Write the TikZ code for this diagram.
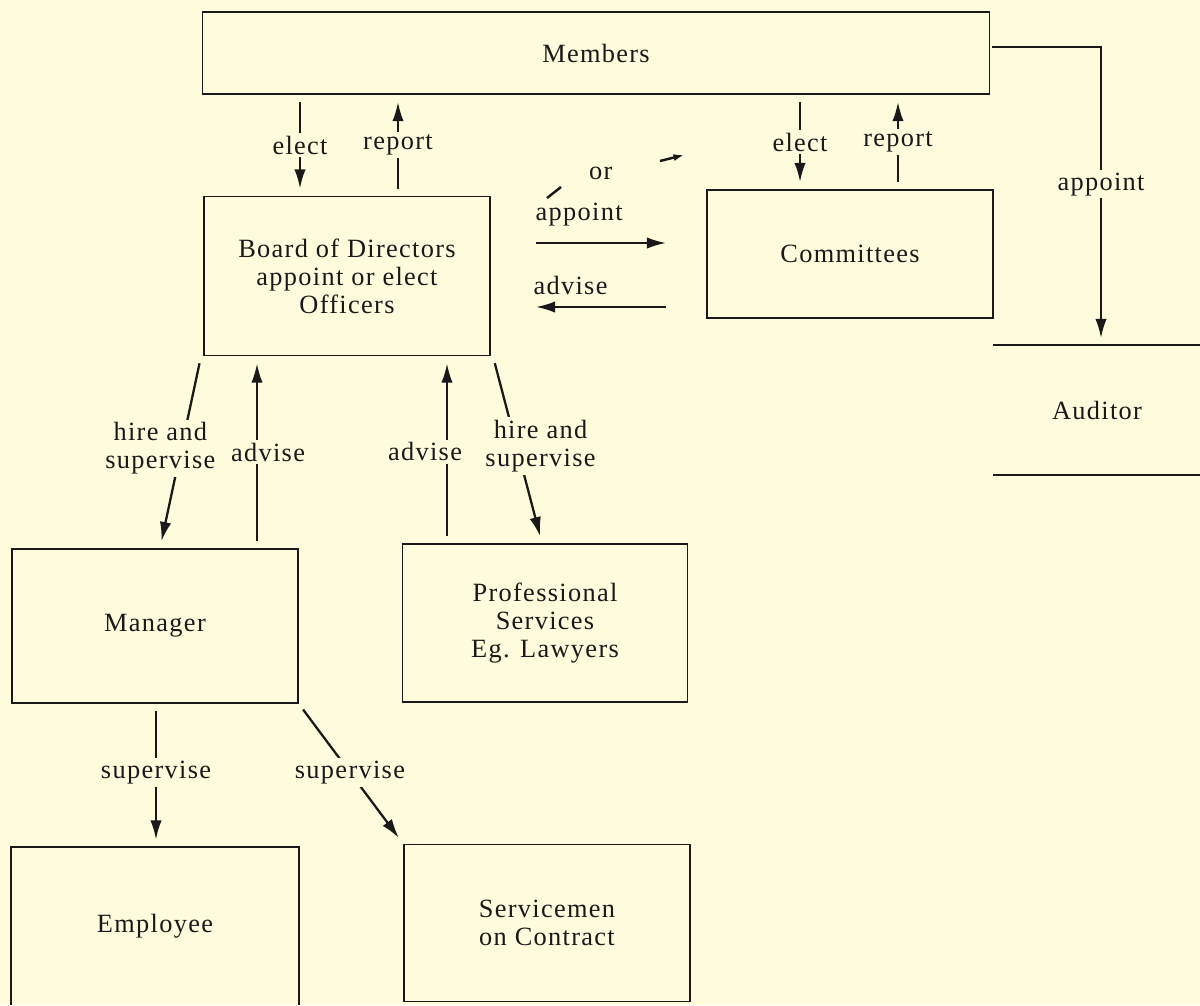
\documentclass[tikz,border=0pt]{standalone}
\usepackage{fontspec}
\setmainfont{Liberation Serif}[LetterSpace=5]
\usetikzlibrary{arrows.meta, positioning, calc}
\definecolor{paper}{RGB}{255,252,222}
\definecolor{ink}{RGB}{25,25,25}

\begin{document}
\begin{tikzpicture}[
    x=0.02cm, y=-0.02cm,
    every node/.style={font=\fontsize{15}{16}\selectfont, text=ink},
    box/.style={draw=ink, line width=1pt, minimum width=5.72cm, align=center, inner sep=0pt},
    lbl/.style={fill=paper, inner sep=1.5pt, align=center},
    arr/.style={draw=ink, line width=1.3pt, -{Latex[length=11pt,width=6.5pt]}, shorten <=4pt, shorten >=4pt}
]
    % Papier
    \fill[paper] (0,0) rectangle (1200,1005);
    \useasboundingbox (0,0) rectangle (1200,1005);

    % Kaesten
    \node[box, minimum width=15.74cm, minimum height=1.64cm] (members) at (596,53) {Members};
    \node[box, minimum height=3.18cm] (board) at (347,276) {Board of Directors\\appoint or elect\\Officers};
    \node[box, minimum height=2.56cm] (committees) at (850,254) {Committees};
    \node[minimum width=4.14cm, minimum height=2.58cm] (auditor) at (1097,410) {Auditor};
    \draw[ink, line width=1pt] (auditor.north west) -- (auditor.north east)
        (auditor.south west) -- (auditor.south east);
    \node[box, minimum height=3.08cm] (manager) at (155,626) {Manager};
    \node[box, minimum width=5.70cm, minimum height=3.16cm] (prof) at (545,623) {Professional\\Services\\Eg. Lawyers};
    \node[minimum width=5.76cm, minimum height=3.16cm] (employee) at (155,926) {Employee};
    \draw[ink, line width=1pt] (employee.south west) -- (employee.north west)
        -- (employee.north east) -- (employee.south east);
    \node[box, minimum height=3.14cm] (service) at (547,923) {Servicemen\\on Contract};

    % Members - Board / Committees
    \draw[arr] (members.south -| 300,0) -- node[lbl] {elect} (board.north -| 300,0);
    \draw[arr] (board.north -| 398,0) -- node[lbl] {report} (members.south -| 398,0);
    \draw[arr] (members.south -| 800,0) -- node[lbl] {elect} (committees.north -| 800,0);
    \draw[arr] (committees.north -| 898,0) -- node[lbl] {report} (members.south -| 898,0);

    % Board - Committees
    \draw[arr, shorten <=0.9cm, shorten >=0.8cm] (board.east |- 0,243) --
        node[pos=0.41, yshift=0.56cm] {appoint}
        node[pos=0.51, yshift=1.4cm] {or} (committees.west |- 0,243);
    \draw[arr, shorten <=0.8cm, shorten >=0.9cm] (committees.west |- 0,307) --
        node[pos=0.63, yshift=0.44cm] {advise} (board.east |- 0,307);
    \draw[ink, line width=1.4pt] (547,198) -- (561,187);
    \draw[ink, line width=1.4pt, -{Latex[length=6pt,width=4pt]}] (660,161) -- (684,155);

    % Members - Auditor
    \draw[arr, shorten <=1pt] (members.east |- 0,47) -| node[lbl, pos=0.73] {appoint} (auditor.north -| 1101,0);

    % Board - Manager / Professional Services
    \draw[arr] (board.south -| 201,0) -- node[lbl, pos=0.48, xshift=-0.42cm] {hire and\\supervise} (manager.north -| 160,0);
    \draw[arr] (manager.north -| 257,0) -- node[lbl, pos=0.5, xshift=0.22cm] {advise} (board.south -| 257,0);
    \draw[arr] (prof.north -| 447,0) -- node[lbl, pos=0.49, xshift=-0.44cm] {advise} (board.south -| 447,0);
    \draw[arr] (board.south -| 493,0) -- node[lbl, pos=0.48, xshift=0.48cm] {hire and\\supervise} (prof.north -| 542,0);

    % Manager - Employee / Servicemen
    \draw[arr] (manager.south -| 156,0) -- node[lbl, pos=0.48] {supervise} (employee.north -| 156,0);
    \draw[arr] (manager.south east) -- node[lbl, pos=0.49] {supervise} (service.north west);
\end{tikzpicture}
\end{document}
